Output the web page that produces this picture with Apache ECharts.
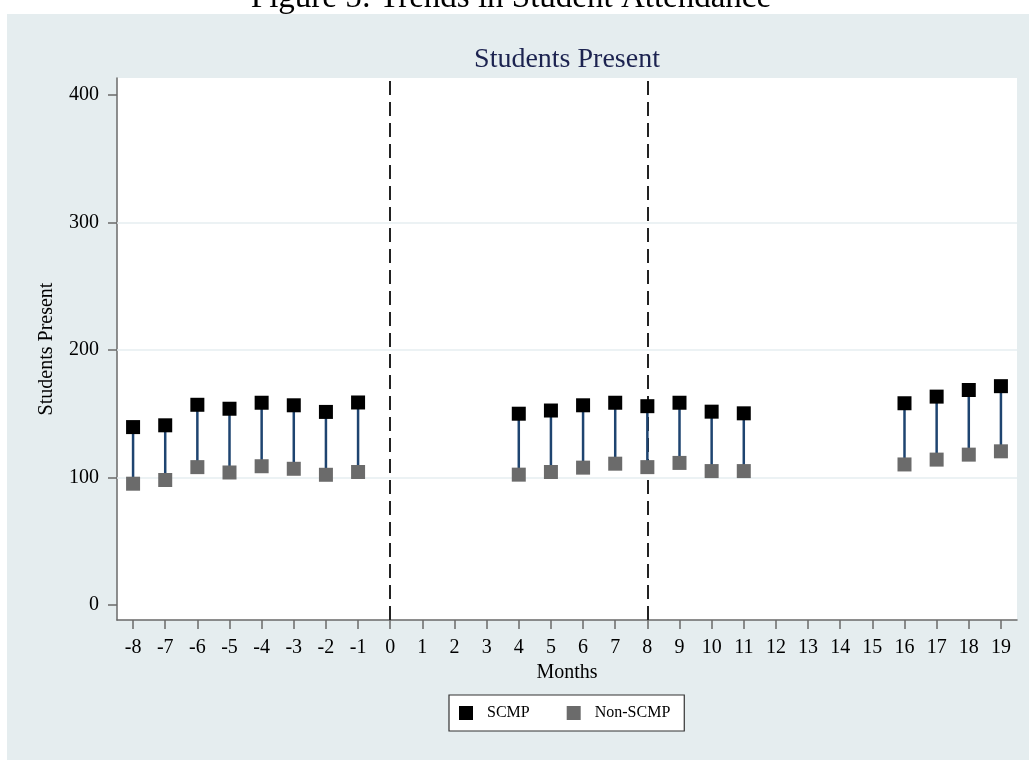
<!DOCTYPE html>
<html>
<head>
<meta charset="utf-8">
<script src="https://cdn.jsdelivr.net/npm/echarts@6/dist/echarts.min.js"></script>
<style>
  html, body { margin: 0; padding: 0; background: #fff; }
  #chart { width: 1029px; height: 760px; }
</style>
</head>
<body>
<div id="chart"></div>
<script>
// Months relative to program start
const months = [-8, -7, -6, -5, -4, -3, -2, -1, 4, 5, 6, 7, 8, 9, 10, 11, 16, 17, 18, 19];
// Average students present per school
const scmp    = [139.5, 140.9, 157.0, 153.9, 158.6, 156.6, 151.4, 158.8, 150.0, 152.5, 156.6, 158.6, 155.9, 158.6, 151.6, 150.3, 158.2, 163.4, 168.6, 171.6];
const nonScmp = [ 95.1,  98.0, 108.1, 103.9, 108.8, 106.8, 102.1, 104.3, 102.2, 104.3, 107.7, 110.8, 108.1, 111.4, 105.0, 105.0, 110.2, 114.0, 117.9, 120.5];
// Axis ticks and reference lines
const xTicks = [-8, -7, -6, -5, -4, -3, -2, -1, 0, 1, 2, 3, 4, 5, 6, 7, 8, 9, 10, 11, 12, 13, 14, 15, 16, 17, 18, 19];
const yTicks = [0, 100, 200, 300, 400];
const yGrid = [100, 200, 300];
const eventMonths = [0, 8];

const SERIF = '"Liberation Serif", "Times New Roman", serif';
const PANEL = '#e5edef';

const chart = echarts.init(document.getElementById('chart'), null, { renderer: 'canvas' });

const connectorData = months.map((m, i) => [m, scmp[i], nonScmp[i]]);

chart.setOption({
  backgroundColor: PANEL,
  animation: false,
  graphic: [
    { type: 'rect', shape: { x: 0, y: 0, width: 1029, height: 14 }, style: { fill: '#fff' }, z: 10 },
    { type: 'rect', shape: { x: 0, y: 0, width: 7, height: 760 }, style: { fill: '#fff' }, z: 10 },
    {
      type: 'text', x: 511, y: -2, z: 11,
      style: { text: 'Figure 5: Trends in Student Attendance', font: '33px ' + SERIF, fill: '#000', align: 'center', verticalAlign: 'middle' }
    },
    {
      type: 'text', x: 567, y: 60, z: 11,
      style: { text: 'Students Present', font: '28px ' + SERIF, fill: '#1c2350', align: 'center', verticalAlign: 'middle' }
    }
  ],
  grid: {
    left: 117, right: 12, top: 78, bottom: 140,
    show: true, backgroundColor: '#fff', borderWidth: 0
  },
  legend: {
    left: 449, top: 695,
    padding: [10, 14, 10, 10],
    itemGap: 37, itemWidth: 14, itemHeight: 14,
    backgroundColor: '#fff', borderColor: '#333', borderWidth: 1.2, borderRadius: 0,
    data: [
      { name: 'SCMP', icon: 'rect' },
      { name: 'Non-SCMP', icon: 'rect' }
    ],
    textStyle: { fontFamily: SERIF, fontSize: 16, color: '#000', padding: [0, 0, 0, 9] }
  },
  xAxis: {
    type: 'value', min: -8.5, max: 19.5,
    name: 'Months', nameLocation: 'middle', nameGap: 41,
    nameTextStyle: { fontFamily: SERIF, fontSize: 20, color: '#000' },
    axisLine: { show: true, onZero: false, lineStyle: { color: '#6a6a6a', width: 1.5 } },
    axisTick: { show: true, customValues: xTicks, length: 9, lineStyle: { color: '#6a6a6a', width: 1.5 } },
    axisLabel: { customValues: xTicks, margin: 18, fontFamily: SERIF, fontSize: 20, color: '#000' },
    splitLine: { show: false }
  },
  yAxis: {
    type: 'value', min: -11.8, max: 413.3,
    name: 'Students Present', nameLocation: 'middle', nameGap: 60, nameRotate: 90,
    nameTextStyle: { fontFamily: SERIF, fontSize: 20, color: '#000' },
    axisLine: { show: true, onZero: false, lineStyle: { color: '#6a6a6a', width: 1.5 } },
    axisTick: { show: true, customValues: yTicks, length: 9, lineStyle: { color: '#6a6a6a', width: 1.5 } },
    axisLabel: { customValues: yTicks, margin: 18, fontFamily: SERIF, fontSize: 20, color: '#000' },
    splitLine: { show: false }
  },
  series: [
    {
      // horizontal grid lines
      type: 'line', data: [], silent: true, z: 0,
      markLine: {
        silent: true, symbol: 'none', label: { show: false },
        lineStyle: { color: '#e6eef0', width: 1.5, type: 'solid' },
        data: yGrid.map(v => ({ yAxis: v }))
      }
    },
    {
      // event months
      type: 'line', data: [], silent: true, z: 1,
      markLine: {
        silent: true, symbol: 'none', label: { show: false },
        lineStyle: { color: '#222', width: 2, type: [14, 7] },
        data: eventMonths.map(v => ({ xAxis: v }))
      }
    },
    {
      // range between the two groups
      type: 'custom', z: 5, silent: true,
      data: connectorData,
      renderItem: function (params, api) {
        const top = api.coord([api.value(0), api.value(1)]);
        const bot = api.coord([api.value(0), api.value(2)]);
        return {
          type: 'line',
          shape: { x1: top[0], y1: top[1], x2: bot[0], y2: bot[1] },
          style: { stroke: '#1e4470', lineWidth: 2.5 }
        };
      }
    },
    {
      name: 'Non-SCMP', type: 'scatter', z: 10,
      symbol: 'rect', symbolSize: 14,
      itemStyle: { color: '#6b6b6b', opacity: 1 },
      data: months.map((m, i) => [m, nonScmp[i]])
    },
    {
      name: 'SCMP', type: 'scatter', z: 11,
      symbol: 'rect', symbolSize: 14,
      itemStyle: { color: '#000', opacity: 1 },
      data: months.map((m, i) => [m, scmp[i]])
    }
  ]
});
</script>
</body>
</html>
